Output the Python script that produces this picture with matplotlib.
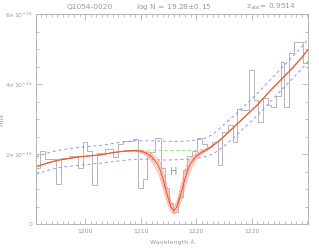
import numpy as np
import matplotlib
matplotlib.use('Agg')
from matplotlib import pyplot as plt
from matplotlib.ticker import MultipleLocator, FixedLocator, FixedFormatter

# observed spectrum, binned (flux in 1e-16)
edges = [1191.17, 1191.89, 1192.79, 1194.78, 1195.68, 1197.13, 1198.75, 1199.65,
         1200.38, 1201.28, 1202.18, 1203.62, 1205.07, 1205.97, 1206.87, 1208.68,
         1209.58, 1210.48, 1211.21, 1211.75, 1212.65, 1213.73, 1214.46, 1215.18,
         1215.90, 1216.80, 1217.70, 1218.43, 1219.33, 1220.23, 1221.13, 1222.04,
         1222.94, 1224.02, 1224.74, 1225.65, 1226.55, 1227.27, 1227.99, 1229.44,
         1230.34, 1231.06, 1231.96, 1232.87, 1233.41, 1234.31, 1235.21, 1235.76,
         1236.66, 1237.56, 1239.19, 1240.09, 1240.27]
flux = [1.6, 2.1, 1.85, 1.15, 1.88, 1.95, 1.6, 2.35, 2.1, 1.12, 2.03, 2.15, 1.92,
        2.3, 2.37, 2.43, 1.04, 1.28, 1.92, 2.07, 2.47, 1.6, 1.03, 0.6, 0.35, 0.78,
        1.55, 1.95, 2.1, 2.45, 2.3, 2.2, 2.35, 1.7, 2.64, 2.83, 2.35, 3.3, 3.25,
        4.4, 3.54, 2.92, 3.6, 3.4, 3.35, 3.65, 4.62, 3.33, 4.88, 5.2, 4.6, 4.9]

# continuum and its error envelope
wc = [1191.2, 1193, 1195, 1197, 1199, 1201, 1203, 1205, 1207, 1209, 1211, 1213,
      1215, 1217, 1219, 1221, 1222, 1223, 1224, 1225, 1227, 1229, 1231, 1233,
      1235, 1237, 1239, 1240.2]
cont = [1.64, 1.73, 1.82, 1.87, 1.92, 1.95, 1.98, 2.04, 2.08, 2.11, 2.11, 2.10,
        2.10, 2.10, 2.10, 2.12, 2.16, 2.24, 2.36, 2.50, 2.80, 3.10, 3.40, 3.75,
        4.08, 4.40, 4.75, 5.00]
cont_hi = [1.92, 2.02, 2.10, 2.15, 2.19, 2.22, 2.25, 2.30, 2.35, 2.38, 2.38, 2.37,
           2.36, 2.36, 2.38, 2.42, 2.48, 2.56, 2.70, 2.84, 3.12, 3.42, 3.73, 4.06,
           4.39, 4.72, 5.06, 5.30]
cont_lo = [1.42, 1.52, 1.60, 1.65, 1.68, 1.71, 1.74, 1.78, 1.82, 1.85, 1.85, 1.83,
           1.83, 1.84, 1.85, 1.90, 1.94, 2.00, 2.10, 2.22, 2.50, 2.80, 3.10, 3.43,
           3.77, 4.10, 4.43, 4.65]

# Lya fit across the absorption (best and range of N)
wa = [1209, 1210, 1211, 1212, 1213, 1213.5, 1214, 1214.5, 1215, 1215.5, 1216,
      1216.5, 1217, 1217.5, 1218, 1218.5, 1219, 1220, 1221, 1222, 1223]
fit_best = [2.10, 2.08, 2.03, 1.92, 1.72, 1.55, 1.30, 1.00, 0.72, 0.48, 0.38,
            0.48, 0.72, 1.00, 1.30, 1.55, 1.73, 1.94, 2.05, 2.13, 2.24]
fit_range = [
    [2.08, 2.04, 1.96, 1.80, 1.52, 1.33, 1.05, 0.76, 0.54, 0.36, 0.27,
     0.36, 0.54, 0.76, 1.05, 1.33, 1.55, 1.84, 2.00, 2.10, 2.23],
    [2.09, 2.06, 1.99, 1.86, 1.62, 1.44, 1.18, 0.88, 0.63, 0.42, 0.32,
     0.42, 0.63, 0.88, 1.18, 1.44, 1.64, 1.89, 2.03, 2.12, 2.24],
    [2.10, 2.09, 2.05, 1.96, 1.80, 1.65, 1.42, 1.12, 0.82, 0.55, 0.44,
     0.55, 0.82, 1.12, 1.42, 1.65, 1.80, 1.98, 2.07, 2.14, 2.24],
    [2.11, 2.10, 2.08, 2.01, 1.88, 1.75, 1.54, 1.25, 0.93, 0.62, 0.50,
     0.62, 0.93, 1.25, 1.54, 1.75, 1.88, 2.02, 2.09, 2.15, 2.24],
]

yticks = [0, 2, 4, 6]
ylabels = ['0', r'2$\times$10$^{-16}$', r'4$\times$10$^{-16}$', r'6$\times$10$^{-16}$']
xticks = [1200, 1210, 1220, 1230]

grey = '#b4b4b4'
txt = '#9a9a9a'

wc = np.array(wc)
cont = np.array(cont)
left = wc < 1209
right = wc > 1223


def full(vals):
    return (np.concatenate((wc[left], wa, wc[right])),
            np.concatenate((cont[left], vals, cont[right])))


fig = plt.figure(figsize=(3.19, 2.5), dpi=100)
ax = fig.add_axes([0.113, 0.104, 0.853, 0.84])

ax.stairs(flux, edges, color=grey, lw=0.7)
ax.plot(wc, cont_hi, color='#9090ff', lw=0.7, ls=(0, (3, 3)))
ax.plot(wc, cont_lo, color='#9090ff', lw=0.7, ls=(0, (3, 3)))
mg = (wc >= 1207) & (wc <= 1223)
ax.plot(wc[mg], cont[mg], color='#90e090', lw=0.7, ls=(0, (3, 3)))
for fr in fit_range:
    x, y = full(fr)
    ax.plot(x, y, color='#ff9a92', lw=0.5)
x, y = full(fit_best)
ax.plot(x, y, color='#e6582a', lw=0.8)

ax.text(1216.0, 1.49, 'H', color=txt, fontsize=7, ha='center', va='center')

ax.set_xlim(1191.17, 1240.17)
ax.set_ylim(0, 6)
ax.xaxis.set_major_locator(FixedLocator(xticks))
ax.xaxis.set_minor_locator(MultipleLocator(1))
ax.yaxis.set_major_locator(FixedLocator(yticks))
ax.yaxis.set_major_formatter(FixedFormatter(ylabels))
ax.yaxis.set_minor_locator(MultipleLocator(0.5))
ax.tick_params(which='both', direction='in', top=True, right=True, color=grey,
               width=0.6, labelcolor=txt, labelsize=4.4)
ax.tick_params(axis='x', pad=3.5)
ax.tick_params(axis='y', pad=2.5)
ax.tick_params(which='major', length=4)
ax.tick_params(which='minor', length=2)
for s in ax.spines.values():
    s.set_color(grey)
    s.set_linewidth(0.7)

ax.set_xlabel('Wavelength Å', color=txt, fontsize=4.6)
ax.xaxis.set_label_coords(0.5, -0.075)
ax.set_ylabel('Flux', color=txt, fontsize=4.6)
ax.yaxis.set_label_coords(-0.115, 0.5)

fig.text(67 / 319, 1 - 7 / 250, 'Q1054-0020', color=txt, fontsize=5.4, va='center')
fig.text(136 / 319, 1 - 7 / 250, r'log N = 19.28$\pm$0.15', color=txt, fontsize=5.4, va='center')
fig.text(246 / 319, 1 - 7 / 250, r'z$_{\rm abs}$= 0.9514', color=txt, fontsize=5.4, va='center')

fig.savefig('out.png', dpi=100)
